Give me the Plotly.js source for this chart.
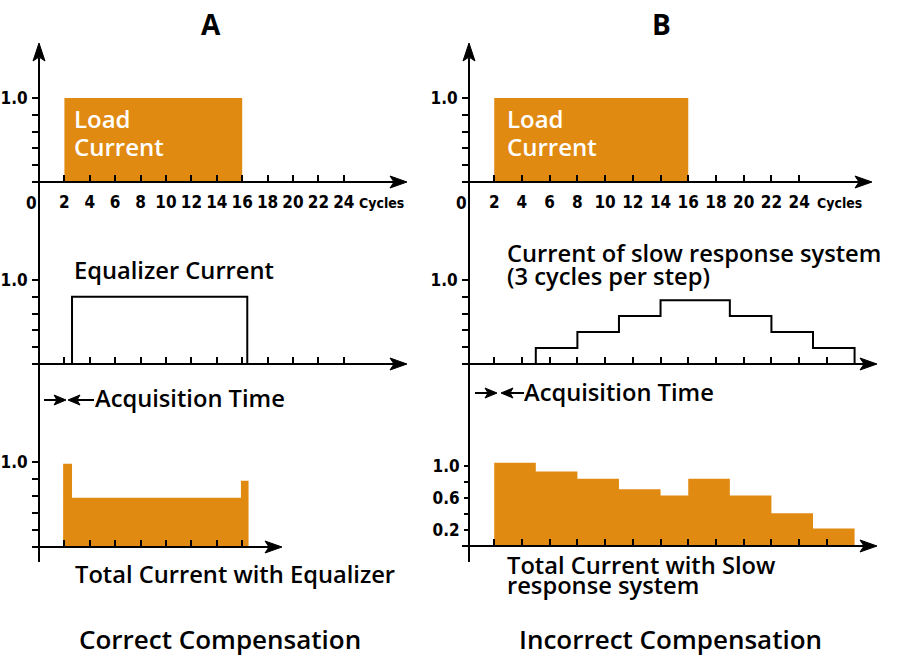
<!DOCTYPE html>
<html><head><meta charset="utf-8">
<script src="https://cdn.plot.ly/plotly-3.0.1.min.js"></script>
<style>html,body{margin:0;padding:0;background:#fff}</style>
</head><body>
<div id="chart" style="width:897px;height:657px"></div>
<script>
// ---------------- data ----------------
const cycleTicks24 = [2,4,6,8,10,12,14,16,18,20,22,24];
const cycleLabels24 = ['2','4','6','8','10','12','14','16','18','20','22','24'];
const cycleTicks16 = [2,4,6,8,10,12,14,16];
const cycleTicks26 = [2,4,6,8,10,12,14,16,18,20,22,24,26];
const yTickVals = [0.2,0.4,0.6,0.8,1.0];
const yTickText = ['','','','','1.0'];
const yTickTextSlow = ['0.2','','0.6','','1.0'];

// Load current (both panels)
const loadEdges = [2, 16];
const loadLevels = [1.0];
// A: equalizer current
const equalizerEdges = [2.6, 16.4];
const equalizerLevels = [0.8];
// A: total current with equalizer
const totalEqEdges = [1.9, 2.6, 15.9, 16.5];
const totalEqLevels = [0.98, 0.58, 0.78];
// B: slow response system current (3 cycles per step)
const slowEdges = [5, 8, 11, 14, 19, 22, 25, 28];
const slowLevels = [0.19, 0.38, 0.57, 0.76, 0.57, 0.38, 0.19];
// B: total current with slow response system
const totalSlowEdges = [2, 5, 8, 11, 14, 16, 19, 22, 25, 28];
const totalSlowLevels = [1.04, 0.93, 0.84, 0.71, 0.63, 0.84, 0.63, 0.41, 0.22];

// ---------------- helpers ----------------
const W = 897, H = 657;
const fx = x => x / W, fy = y => 1 - y / H;
const ORANGE = '#E18A11';
const tickFontFam = '"Liberation Sans Narrow", "DejaVu Sans Condensed", "Roboto Condensed", sans-serif';
const textFam = '"Open Sans", "Noto Sans", sans-serif';

function steps(edges, levels) {
  const x = [edges[0]], y = [0];
  for (let i = 0; i < levels.length; i++) { x.push(edges[i]); y.push(levels[i]); }
  x.push(edges[edges.length - 1]); y.push(levels[levels.length - 1]);
  x.push(edges[edges.length - 1]); y.push(0);
  return {x, y};
}

// panel geometry (pixels)
const panels = [
  {id:'',  L:32,  R:400, x0:39,    kx:12.7,  base:182, top:60,  ky:84, yPos:39,  ticks:cycleTicks24, labels:cycleLabels24, yText:yTickText},
  {id:'2', L:32,  R:400, x0:39,    kx:12.7,  base:364, top:250, ky:84, yPos:39,  ticks:cycleTicks24, labels:null, yText:yTickText},
  {id:'3', L:32,  R:275, x0:39,    kx:12.7,  base:547, top:440, ky:85, yPos:39,  ticks:cycleTicks16, labels:null, yText:yTickText},
  {id:'4', L:462, R:865, x0:466.5, kx:13.86, base:182, top:60,  ky:84, yPos:469, ticks:cycleTicks24, labels:cycleLabels24, yText:yTickText},
  {id:'5', L:462, R:870, x0:466.5, kx:13.86, base:364, top:250, ky:84, yPos:469, ticks:cycleTicks26, labels:null, yText:yTickText},
  {id:'6', L:462, R:870, x0:466.5, kx:13.86, base:546, top:440, ky:80, yPos:469, ticks:cycleTicks26, labels:null, yText:yTickTextSlow}
];

const layout = {
  width: W, height: H, margin: {l:0, r:0, t:0, b:0},
  paper_bgcolor: '#fff', plot_bgcolor: 'rgba(0,0,0,0)', showlegend: false,
  shapes: [], annotations: []
};

panels.forEach(p => {
  layout['xaxis' + p.id] = {
    domain: [fx(p.L), fx(p.R)],
    range: [(p.L - p.x0) / p.kx, (p.R - p.x0) / p.kx],
    anchor: 'y' + p.id,
    showgrid: false, zeroline: false, showline: false,
    ticks: 'inside', ticklen: 7, tickwidth: 2, tickcolor: '#000',
    tickmode: 'array', tickvals: p.ticks,
    ticktext: p.labels ? p.labels : p.ticks.map(() => ''),
    showticklabels: !!p.labels,
    ticklabelstandoff: 8,
    tickfont: {family: tickFontFam, size: 17, color: '#000', weight: 700},
    fixedrange: true
  };
  layout['yaxis' + p.id] = {
    domain: [fy(p.base), fy(p.top)],
    range: [0, (p.base - p.top) / p.ky],
    anchor: 'free', position: fx(p.yPos),
    showgrid: false, zeroline: false, showline: false,
    ticks: 'outside', ticklen: p.id === '6' ? 5 : 7, tickwidth: 2, tickcolor: '#000',
    tickmode: 'array', tickvals: yTickVals, ticktext: p.yText,
    ticklabelstandoff: 1,
    tickfont: {family: tickFontFam, size: 17, color: '#000', weight: 700},
    fixedrange: true
  };
});

// ---------------- traces ----------------
const s1 = steps(loadEdges, loadLevels);
const s2 = steps(equalizerEdges, equalizerLevels);
const s3 = steps(totalEqEdges, totalEqLevels);
const s5 = steps(slowEdges, slowLevels);
const s6 = steps(totalSlowEdges, totalSlowLevels);

const filled = (s, xa, ya) => ({x:s.x, y:s.y, xaxis:xa, yaxis:ya, type:'scatter', mode:'lines',
  line:{shape:'hv', width:0, color:ORANGE}, fill:'tozeroy', fillcolor:ORANGE, hoverinfo:'skip'});
const outline = (s, xa, ya) => ({x:s.x, y:s.y, xaxis:xa, yaxis:ya, type:'scatter', mode:'lines',
  line:{shape:'hv', width:2, color:'#000'}, hoverinfo:'skip'});

const data = [
  filled(s1, 'x', 'y'),
  outline(s2, 'x2', 'y2'),
  filled(s3, 'x3', 'y3'),
  filled(s1, 'x4', 'y4'),
  outline(s5, 'x5', 'y5'),
  filled(s6, 'x6', 'y6')
];

// ---------------- decoration: axis lines and arrows ----------------
function line(x1, y1, x2, y2, w) {
  layout.shapes.push({type:'line', xref:'paper', yref:'paper', x0:fx(x1), y0:fy(y1), x1:fx(x2), y1:fy(y2),
    line:{color:'#000', width:w || 2}, layer:'above'});
}
function path(pts) {
  const d = 'M' + pts.map(q => fx(q[0]) + ',' + fy(q[1])).join('L') + 'Z';
  layout.shapes.push({type:'path', xref:'paper', yref:'paper', path:d, fillcolor:'#000', line:{color:'#000', width:1}, layer:'above'});
}
function rightHead(tx, ty, len, half, notch) { path([[tx,ty],[tx-len,ty-half],[tx-len+notch,ty],[tx-len,ty+half]]); }
function leftHead(tx, ty, len, half, notch) { path([[tx,ty],[tx+len,ty-half],[tx+len-notch,ty],[tx+len,ty+half]]); }
function upHead(tx, ty, len, half, notch) { path([[tx,ty],[tx-half,ty+len],[tx,ty+len-notch],[tx+half,ty+len]]); }

// vertical axes
line(39, 58, 39, 562); upHead(39, 43, 18, 6, 4);
line(469, 58, 469, 562); upHead(469, 43, 18, 6, 4);
// horizontal axes
[[32,182,407],[32,364,407],[32,547,282],[462,182,872],[462,364,877],[462,546,877]].forEach(a => {
  line(a[0], a[1], a[2] - 12, a[1]); rightHead(a[2], a[1], 17, 6, 4);
});
// acquisition time arrows
line(44, 400, 58, 400, 2); rightHead(66, 400, 12, 5, 3);
line(77, 400, 94, 400, 2); leftHead(68, 400, 12, 5, 3);
line(475, 393, 489, 393, 2); rightHead(497, 393, 12, 5, 3);
line(510, 393, 524, 393, 2); leftHead(501, 393, 12, 5, 3);

// ---------------- text ----------------
function txt(t, x, y, size, opts) {
  opts = opts || {};
  layout.annotations.push({text:t, xref:'paper', yref:'paper', x:fx(x), y:fy(y),
    xanchor:opts.anchor || 'left', yanchor:'middle', showarrow:false, borderpad:0,
    font:{family:opts.family || textFam, size:size, color:opts.color || '#000', weight:opts.weight || 600}});
}
txt('A', 211, 24, 28, {anchor:'center', weight:700});
txt('B', 661, 24, 28, {anchor:'center', weight:700});
txt('Load', 73, 118, 24, {color:'#fff'});
txt('Current', 73, 147, 24, {color:'#fff'});
txt('Load', 506, 118, 24, {color:'#fff'});
txt('Current', 506, 147, 24, {color:'#fff'});
txt('Equalizer Current', 73, 270, 23.7);
txt('Acquisition Time', 94, 398, 23.7);
txt('Total Current with Equalizer', 74, 574, 23.7);
txt('Current of slow response system', 506, 253, 23.7);
txt('(3 cycles per step)', 506, 276, 23.7);
txt('Acquisition Time', 523, 392, 23.7);
txt('Total Current with Slow', 506, 565, 23.7);
txt('response system', 506, 585, 23.7);
txt('Correct Compensation', 220, 639, 26, {anchor:'center'});
txt('Incorrect Compensation', 670, 639, 26, {anchor:'center'});

// "0" origin labels and "Cycles" unit labels on the top axes
[31, 461].forEach(x => txt('0', x, 203, 17, {anchor:'center', weight:700, family:tickFontFam}));
[381, 839].forEach(x => txt('Cycles', x, 203, 14, {anchor:'center', weight:700, family:tickFontFam}));

Plotly.newPlot('chart', data, layout, {staticPlot:true, displayModeBar:false});
</script>
</body></html>
